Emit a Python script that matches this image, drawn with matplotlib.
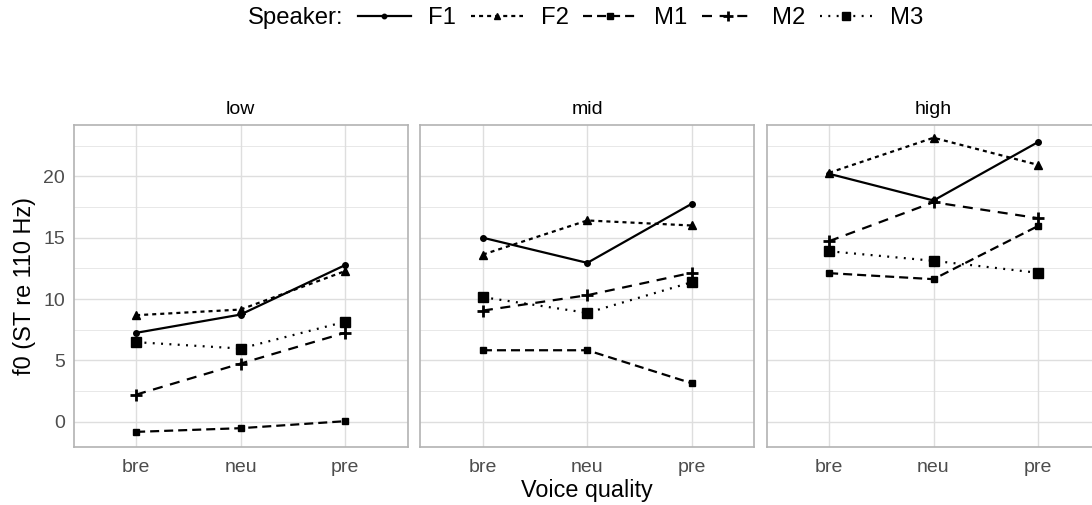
import numpy as np
import matplotlib.pyplot as plt
from matplotlib.lines import Line2D

plt.rcParams['font.family'] = ['Liberation Sans', 'DejaVu Sans']
plt.rcParams['lines.scale_dashes'] = False

# data: f0 per speaker, voice quality and pitch level
levels = ['low', 'mid', 'high']
qualities = ['bre', 'neu', 'pre']
speakers = ['F1', 'F2', 'M1', 'M2', 'M3']

f0_low = {
    'F1': [7.24, 8.73, 12.76],
    'F2': [8.68, 9.14, 12.27],
    'M1': [-0.84, -0.54, 0.03],
    'M2': [2.2, 4.73, 7.24],
    'M3': [6.48, 5.96, 8.14],
}
f0_mid = {
    'F1': [15.0, 12.95, 17.77],
    'F2': [13.63, 16.41, 16.0],
    'M1': [5.82, 5.82, 3.13],
    'M2': [9.06, 10.31, 12.14],
    'M3': [10.15, 8.87, 11.37],
}
f0_high = {
    'F1': [20.22, 18.04, 22.8],
    'F2': [20.3, 23.16, 20.95],
    'M1': [12.11, 11.62, 15.95],
    'M2': [14.72, 17.9, 16.6],
    'M3': [13.9, 13.12, 12.14],
}
panels = [f0_low, f0_mid, f0_high]

styles = {
    'F1': dict(ls='-', marker='o', ms=4),
    'F2': dict(ls=(0, (2.9, 2.9)), marker='^', ms=5.5),
    'M1': dict(ls=(0, (6.5, 3.6)), marker='s', ms=5),
    'M2': dict(ls=(0, (7.2, 5.5)), marker='+', ms=9, mew=2),
    'M3': dict(ls=(0, (1.4, 4.6)), marker='s', ms=7.5),
}

W, H = 1092, 505
fig = plt.figure(figsize=(W / 100, H / 100), dpi=100)

lefts = [73.5, 420.3, 766.5]
pw = 334
top, bot = 125, 446.7
grid_c = '#DEDEDE'
border_c = '#B3B3B3'

x = np.arange(1, 4)
for i, (lev, data) in enumerate(zip(levels, panels)):
    ax = fig.add_axes([lefts[i] / W, 1 - bot / H, pw / W, (bot - top) / H])
    ax.set_xlim(0.4, 3.6)
    ax.set_ylim(-2.05, 24.2)
    ax.set_yticks([0, 5, 10, 15, 20])
    ax.set_yticks([2.5, 7.5, 12.5, 17.5, 22.5], minor=True)
    ax.set_xticks(x)
    ax.set_xticklabels(qualities)
    ax.grid(which='major', color=grid_c, lw=1.0)
    ax.grid(which='minor', axis='y', color=grid_c, lw=0.5)
    ax.set_axisbelow(True)
    for s in ax.spines.values():
        s.set_color(border_c)
        s.set_linewidth(1.2)
    ax.tick_params(which='both', length=0, labelsize=14, labelcolor='#4D4D4D')
    ax.tick_params(axis='x', pad=9)
    ax.tick_params(axis='y', pad=6)
    if i > 0:
        ax.tick_params(labelleft=False)
    for sp in speakers:
        st = styles[sp]
        ax.plot(x, data[sp], color='black', lw=1.6, ls=st['ls'], marker=st['marker'],
                ms=st['ms'], mew=st.get('mew', 1), mfc='black', mec='black')
    ax.set_title(lev, fontsize=14, pad=8)

fig.text(587 / W, 1 - 491 / H, 'Voice quality', ha='center', va='center', fontsize=16.8)
fig.text(25 / W, 1 - 286 / H, 'f0 (ST re 110 Hz)', ha='center', va='center',
         rotation=90, fontsize=16.8)

# legend across the top
handles = []
for sp in speakers:
    st = styles[sp]
    handles.append(Line2D([], [], color='black', lw=1.6, ls=st['ls'], marker=st['marker'],
                          ms=st['ms'] * 0.8, mew=st.get('mew', 1)))
fig.text(248 / W, 1 - 18 / H, 'Speaker:', ha='left', va='center', fontsize=17.2)
fig.legend(handles, speakers, loc='center left', bbox_to_anchor=(358 / W, 1 - 18 / H),
           ncol=5, frameon=False, fontsize=17.2, handlelength=2.2, handletextpad=0.75,
           columnspacing=0.6, borderpad=0, borderaxespad=0)

fig.savefig('out.png', dpi=100)
